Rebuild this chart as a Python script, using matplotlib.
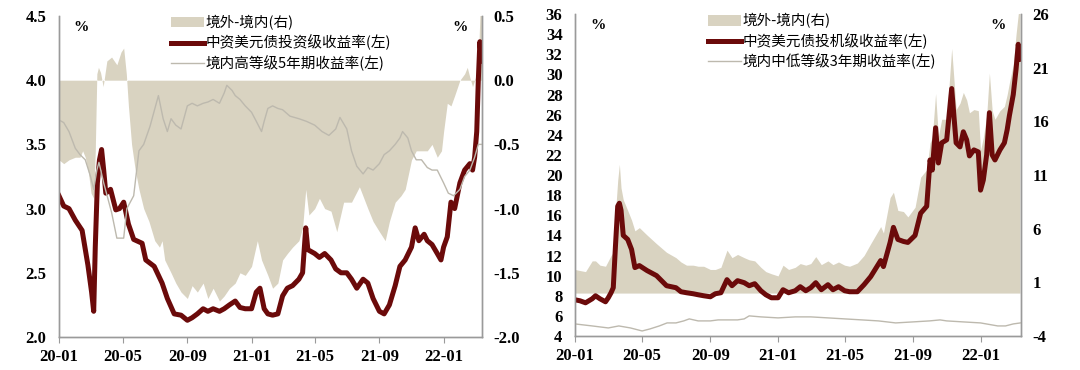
import numpy as np
import pandas as pd
import matplotlib
matplotlib.use('Agg')
import matplotlib.pyplot as plt
import matplotlib.dates as mdates

# ---- left panel: investment grade ----
l_red_dates = ['2020-01-01', '2020-01-10', '2020-01-20', '2020-02-01', '2020-02-14', '2020-02-25', '2020-03-03',
               '2020-03-07', '2020-03-10', '2020-03-14', '2020-03-18', '2020-03-22', '2020-03-26', '2020-03-30',
               '2020-04-08', '2020-04-18', '2020-04-25', '2020-05-03', '2020-05-12', '2020-05-22', '2020-06-07',
               '2020-06-14', '2020-06-30', '2020-07-15', '2020-07-25', '2020-08-07', '2020-08-20',
               '2020-09-01', '2020-09-10', '2020-09-20', '2020-10-01', '2020-10-10', '2020-10-20', '2020-11-01', '2020-11-10', '2020-11-20',
               '2020-12-01', '2020-12-10', '2020-12-20',
               '2021-01-01', '2021-01-10', '2021-01-17', '2021-01-25', '2021-02-01', '2021-02-10', '2021-02-20',
               '2021-03-01', '2021-03-10', '2021-03-20', '2021-04-01', '2021-04-08', '2021-04-14', '2021-04-18',
               '2021-05-01', '2021-05-10', '2021-05-20', '2021-06-01', '2021-06-10', '2021-06-20', '2021-07-01', '2021-07-10', '2021-07-20',
               '2021-08-01', '2021-08-10', '2021-08-20', '2021-09-01', '2021-09-10', '2021-09-20', '2021-10-01', '2021-10-10', '2021-10-20',
               '2021-11-01', '2021-11-08', '2021-11-15', '2021-11-25', '2021-12-01', '2021-12-10', '2021-12-20', '2021-12-27',
               '2022-01-01', '2022-01-08', '2022-01-15', '2022-01-22', '2022-02-01', '2022-02-10', '2022-02-20', '2022-02-25',
               '2022-03-01', '2022-03-05', '2022-03-08', '2022-03-11', '2022-03-14']
l_red = [3.10, 3.02, 3.00, 2.91, 2.83, 2.56, 2.35,
         2.20, 2.70, 3.20, 3.38, 3.46, 3.30, 3.12,
         3.15, 2.99, 3.00, 3.05, 2.88, 2.76, 2.73,
         2.60, 2.55, 2.42, 2.30, 2.18, 2.17,
         2.13, 2.15, 2.18, 2.22, 2.20, 2.22, 2.20, 2.22, 2.25,
         2.28, 2.23, 2.22,
         2.22, 2.35, 2.38, 2.22, 2.18, 2.17, 2.18,
         2.32, 2.38, 2.40, 2.45, 2.50, 2.85, 2.68,
         2.65, 2.62, 2.65, 2.60, 2.53, 2.50, 2.50, 2.45, 2.38,
         2.45, 2.42, 2.30, 2.20, 2.18, 2.25, 2.40, 2.55, 2.60,
         2.70, 2.85, 2.75, 2.80, 2.75, 2.72, 2.65, 2.60,
         2.70, 2.78, 3.05, 3.00, 3.20, 3.30, 3.35, 3.30,
         3.40, 3.60, 4.00, 4.30, 4.15]

l_gray_dates = ['2020-01-01', '2020-01-10', '2020-01-20', '2020-02-01', '2020-02-10', '2020-02-20', '2020-03-01',
                '2020-03-07', '2020-03-13', '2020-03-17', '2020-03-26', '2020-04-10', '2020-04-20', '2020-05-03',
                '2020-05-09', '2020-05-22', '2020-06-01', '2020-06-10', '2020-06-22', '2020-07-08', '2020-07-17',
                '2020-07-25', '2020-08-01', '2020-08-10', '2020-08-20', '2020-09-01', '2020-09-10', '2020-09-20',
                '2020-10-01', '2020-10-10', '2020-10-20', '2020-11-01', '2020-11-10', '2020-11-15', '2020-11-25',
                '2020-12-01', '2020-12-10', '2020-12-20',
                '2021-01-01', '2021-01-10', '2021-01-20', '2021-01-25', '2021-02-01', '2021-02-10', '2021-02-20',
                '2021-03-01', '2021-03-15', '2021-04-01', '2021-04-15', '2021-05-01', '2021-05-15', '2021-05-28',
                '2021-06-10', '2021-06-18', '2021-07-01', '2021-07-10', '2021-07-20', '2021-08-01', '2021-08-10',
                '2021-08-20', '2021-09-01', '2021-09-10', '2021-09-20', '2021-10-01', '2021-10-10', '2021-10-15',
                '2021-10-25', '2021-11-01', '2021-11-10', '2021-11-20', '2021-12-01', '2021-12-10', '2021-12-20',
                '2022-01-01', '2022-01-10', '2022-01-20', '2022-02-01', '2022-02-10', '2022-02-20', '2022-03-01',
                '2022-03-08', '2022-03-14']
l_gray = [3.69, 3.67, 3.60, 3.47, 3.42, 3.38, 3.25,
          3.15, 3.30, 3.36, 3.20, 2.97, 2.77, 2.77,
          3.00, 3.10, 3.45, 3.50, 3.64, 3.88, 3.70,
          3.60, 3.70, 3.65, 3.62, 3.80, 3.82, 3.80,
          3.82, 3.83, 3.85, 3.82, 3.90, 3.96, 3.92,
          3.88, 3.85, 3.80,
          3.75, 3.68, 3.60, 3.68, 3.78, 3.80, 3.78,
          3.77, 3.72, 3.70, 3.68, 3.65, 3.60, 3.57,
          3.62, 3.71, 3.62, 3.45, 3.33, 3.27, 3.32,
          3.30, 3.35, 3.42, 3.45, 3.50, 3.55, 3.60,
          3.55, 3.45, 3.38, 3.38, 3.32, 3.30, 3.30,
          3.20, 3.12, 3.10, 3.15, 3.25, 3.30, 3.40,
          3.50, 3.50]

l_spread_dates = ['2020-01-01', '2020-01-10', '2020-01-20', '2020-02-01', '2020-02-10', '2020-02-15', '2020-02-20',
                  '2020-02-26', '2020-03-02', '2020-03-07', '2020-03-10', '2020-03-13', '2020-03-16', '2020-03-20',
                  '2020-03-25', '2020-04-01', '2020-04-10', '2020-04-20', '2020-04-28', '2020-05-03', '2020-05-08',
                  '2020-05-12', '2020-05-18', '2020-05-25', '2020-06-01', '2020-06-10', '2020-06-20', '2020-07-01',
                  '2020-07-10', '2020-07-15', '2020-07-20', '2020-08-01', '2020-08-10', '2020-08-20', '2020-09-01',
                  '2020-09-10', '2020-09-20', '2020-10-01', '2020-10-10', '2020-10-20', '2020-11-01', '2020-11-10',
                  '2020-11-20', '2020-12-01', '2020-12-10', '2020-12-20',
                  '2021-01-01', '2021-01-12', '2021-01-20', '2021-02-01', '2021-02-10', '2021-02-20', '2021-03-01',
                  '2021-03-10', '2021-03-20', '2021-04-01', '2021-04-08', '2021-04-14', '2021-04-20', '2021-05-01',
                  '2021-05-10', '2021-05-20', '2021-06-01', '2021-06-12', '2021-06-25', '2021-07-10', '2021-07-25',
                  '2021-08-10', '2021-08-20', '2021-09-01', '2021-09-12', '2021-09-20', '2021-10-01', '2021-10-12',
                  '2021-10-20', '2021-11-01', '2021-11-10', '2021-11-20', '2021-12-01', '2021-12-10', '2021-12-20',
                  '2021-12-28',
                  '2022-01-01', '2022-01-08', '2022-01-15', '2022-01-22', '2022-02-01', '2022-02-10', '2022-02-15',
                  '2022-02-20', '2022-02-25', '2022-03-01', '2022-03-05', '2022-03-08', '2022-03-11', '2022-03-14']
l_spread = [-0.62, -0.65, -0.62, -0.60, -0.60, -0.55, -0.60,
            -0.72, -0.88, -0.92, -0.55, 0.05, 0.10, 0.06,
            -0.05, 0.15, 0.18, 0.12, 0.22, 0.25, 0.05,
            -0.20, -0.50, -0.70, -0.85, -1.00, -1.10, -1.25,
            -1.30, -1.25, -1.40, -1.50, -1.58, -1.65, -1.70,
            -1.60, -1.65, -1.58, -1.70, -1.62, -1.72, -1.68,
            -1.62, -1.58, -1.50, -1.52,
            -1.45, -1.25, -1.40, -1.52, -1.62, -1.58, -1.40,
            -1.35, -1.30, -1.25, -1.15, -0.85, -1.05, -1.00,
            -0.92, -1.00, -1.02, -1.18, -0.95, -0.95, -0.83,
            -1.00, -1.10, -1.18, -1.25, -1.10, -0.95, -0.90,
            -0.85, -0.62, -0.55, -0.55, -0.55, -0.50, -0.60,
            -0.55,
            -0.40, -0.18, -0.20, -0.12, 0.00, 0.05, 0.10,
            0.02, -0.05, 0.00, 0.05, 0.15, 0.50, 0.55]

# ---- right panel: high yield ----
r_dates = ['2020-01-01', '2020-01-10', '2020-01-20', '2020-02-01', '2020-02-07', '2020-02-15', '2020-02-25',
           '2020-03-01', '2020-03-06', '2020-03-10', '2020-03-14', '2020-03-18', '2020-03-21', '2020-03-24',
           '2020-03-28', '2020-04-05', '2020-04-12', '2020-04-18', '2020-04-26', '2020-05-10', '2020-05-27',
           '2020-06-14', '2020-07-01', '2020-07-10', '2020-07-20', '2020-08-01', '2020-08-10', '2020-08-20',
           '2020-09-01', '2020-09-10', '2020-09-20', '2020-10-01', '2020-10-10', '2020-10-20', '2020-11-01',
           '2020-11-10', '2020-11-20', '2020-12-01', '2020-12-10', '2020-12-20',
           '2021-01-01', '2021-01-10', '2021-01-20', '2021-02-01', '2021-02-10', '2021-02-20', '2021-03-01',
           '2021-03-10', '2021-03-20', '2021-04-01', '2021-04-10', '2021-04-20', '2021-05-01', '2021-05-10',
           '2021-05-24', '2021-06-05', '2021-06-17', '2021-07-05', '2021-07-10', '2021-07-22', '2021-07-28',
           '2021-08-05', '2021-08-15', '2021-08-23', '2021-09-05', '2021-09-15', '2021-09-26', '2021-10-02',
           '2021-10-06', '2021-10-12', '2021-10-17', '2021-10-23', '2021-11-01', '2021-11-10', '2021-11-18',
           '2021-11-25', '2021-12-01', '2021-12-07', '2021-12-12', '2021-12-20', '2021-12-28',
           '2022-01-01', '2022-01-06', '2022-01-12', '2022-01-17', '2022-01-22', '2022-01-27', '2022-02-05',
           '2022-02-13', '2022-02-18', '2022-02-22', '2022-03-01', '2022-03-06', '2022-03-10', '2022-03-13']
r_red = [7.6, 7.5, 7.3, 7.7, 8.0, 7.7, 7.4,
         7.8, 8.3, 8.8, 13.0, 16.9, 17.2, 16.5,
         14.0, 13.6, 12.6, 10.8, 11.0, 10.5, 10.0,
         9.0, 8.8, 8.4, 8.3, 8.2, 8.1, 8.0,
         7.9, 8.2, 8.3, 9.6, 9.0, 9.5, 9.3,
         9.0, 9.2, 8.5, 8.1, 7.8,
         7.8, 8.6, 8.3, 8.5, 8.9, 8.5, 8.8,
         9.3, 8.6, 9.1, 8.6, 8.9, 8.5, 8.4,
         8.4, 9.1, 9.9, 11.5, 10.9, 13.3, 14.8,
         13.6, 13.4, 13.3, 14.0, 16.2, 16.9, 21.5,
         20.5, 24.7, 21.2, 23.2, 23.5, 28.6, 23.2,
         22.8, 24.3, 23.5, 21.9, 22.5, 22.3,
         18.5, 19.5, 22.0, 26.2, 22.0, 21.5, 22.5,
         23.2, 24.5, 25.9, 28.0, 30.5, 33.0, 31.5]
r_spread = [2.2, 2.1, 2.0, 3.0, 3.0, 2.6, 2.5,
            3.0, 3.5, 3.8, 7.5, 10.5, 12.0, 9.8,
            8.7, 7.7, 6.8, 5.8, 6.1, 5.4, 4.6,
            3.8, 3.3, 2.9, 2.6, 2.6, 2.5, 2.5,
            2.2, 2.2, 2.4, 4.0, 3.3, 3.6, 3.3,
            3.1, 3.0, 2.4, 2.0, 1.8,
            1.6, 2.6, 2.2, 2.4, 2.75, 2.6, 2.75,
            3.4, 2.65, 3.0, 2.65, 2.9, 2.6, 2.5,
            2.8, 3.5, 4.6, 6.2, 5.6, 8.9, 9.4,
            7.7, 7.6, 7.1, 8.0, 10.8, 11.5, 14.0,
            14.5, 18.6, 14.6, 16.2, 16.2, 22.8, 17.1,
            17.7, 18.7, 18.0, 16.8, 17.1, 17.0,
            13.3, 14.5, 16.5, 20.5, 17.0, 16.2, 17.0,
            17.4, 18.5, 19.6, 21.3, 24.1, 26.0, 27.0]

r_gray_dates = ['2020-01-01', '2020-02-01', '2020-03-01', '2020-03-20', '2020-04-10', '2020-05-01', '2020-05-15',
                '2020-06-01', '2020-06-15', '2020-07-01', '2020-07-15', '2020-07-25', '2020-08-10', '2020-09-01',
                '2020-09-15', '2020-10-01', '2020-10-20', '2020-11-01', '2020-11-10', '2020-12-01',
                '2021-01-01', '2021-02-01', '2021-03-01', '2021-04-01', '2021-05-01', '2021-06-01', '2021-07-01',
                '2021-08-01', '2021-09-01', '2021-10-01', '2021-10-20', '2021-11-01', '2021-12-01',
                '2022-01-01', '2022-02-01', '2022-02-15', '2022-03-01', '2022-03-14']
r_gray = [5.2, 5.0, 4.8, 5.0, 4.8, 4.5, 4.7,
          5.0, 5.3, 5.3, 5.5, 5.7, 5.5, 5.5,
          5.6, 5.6, 5.6, 5.7, 6.0, 5.9,
          5.8, 5.9, 5.9, 5.8, 5.7, 5.6, 5.5,
          5.3, 5.4, 5.5, 5.6, 5.5, 5.4,
          5.3, 5.0, 5.0, 5.2, 5.3]

l_labels = ['境外-境内(右)', '中资美元债投资级收益率(左)', '境内高等级5年期收益率(左)']
r_labels = ['境外-境内(右)', '中资美元债投机级收益率(左)', '境内中低等级3年期收益率(左)']

fill_c = '#d9d3c1'
red_c = '#6b0a0a'
gray_c = '#bdb9ae'
spine_c = '#9a9a9a'

plt.rcParams['font.family'] = ['Liberation Serif']
cjk = ['Noto Sans CJK SC', 'DejaVu Sans']

fig = plt.figure(figsize=(10.8, 3.7), dpi=100)


def panel(pos, red_d, red, gray_d, gray, sp_d, sp, labels, ylim, yt, y2lim, y2t, fmt, leg_x):
    ax = fig.add_axes(pos)
    ax2 = ax.twinx()
    # lines on top of the twin-axis fill
    ax.set_zorder(ax2.get_zorder() + 1)
    ax.patch.set_visible(False)

    fill = ax2.fill_between(pd.to_datetime(sp_d), 0, sp, color=fill_c, lw=0, interpolate=True)
    l1, = ax.plot(pd.to_datetime(red_d), red, color=red_c, lw=3.6, solid_joinstyle='round')
    l2, = ax.plot(pd.to_datetime(gray_d), gray, color=gray_c, lw=1.0)

    ax.set_xlim(pd.Timestamp('2020-01-01'), pd.Timestamp('2022-03-15'))
    ax.set_ylim(*ylim)
    ax.set_yticks(yt)
    ax.set_yticklabels([fmt.format(v) for v in yt])
    ax2.set_ylim(*y2lim)
    ax2.set_yticks(y2t)
    ax2.set_yticklabels([fmt.format(v) for v in y2t])

    xt = pd.date_range('2020-01-01', '2022-01-01', freq='4MS')
    ax.set_xticks(xt)
    ax.xaxis.set_major_formatter(mdates.DateFormatter('%y-%m'))

    for a in (ax, ax2):
        a.spines['top'].set_visible(False)
        for s in ('left', 'right', 'bottom'):
            a.spines[s].set_color(spine_c)
            a.spines[s].set_linewidth(1.0)
    ax.tick_params(axis='y', length=0, pad=9, labelsize=12)
    ax2.tick_params(axis='y', length=0, pad=8, labelsize=12)
    ax.tick_params(axis='x', length=4, color=spine_c, pad=5, labelsize=12)
    for t in ax.get_xticklabels() + ax.get_yticklabels() + ax2.get_yticklabels():
        t.set_fontweight('bold')

    ax.text(0.035, 0.985, '%', transform=ax.transAxes, ha='left', va='top', fontsize=11, fontweight='bold')
    ax.text(0.965, 0.985, '%', transform=ax.transAxes, ha='right', va='top', fontsize=11, fontweight='bold')

    ax.legend([fill, l1, l2], labels, loc='upper left', bbox_to_anchor=(leg_x, 1.02), frameon=False,
              prop={'family': cjk, 'size': 10.5}, handlelength=2.3, handletextpad=0.1, labelspacing=0.3,
              borderaxespad=0)
    return ax, ax2


panel([0.0546, 0.0892, 0.3917, 0.8676], l_red_dates, l_red, l_gray_dates, l_gray, l_spread_dates, l_spread,
      l_labels, (2.0, 4.5), np.arange(2.0, 4.51, 0.5), (-2.0, 0.5), np.arange(-2.0, 0.51, 0.5), '{:.1f}', 0.25)
panel([0.5324, 0.0919, 0.4130, 0.8700], r_dates, r_red, r_gray_dates, r_gray, r_dates, r_spread,
      r_labels, (4, 36), np.arange(4, 37, 2), (-4, 26), np.arange(-4, 27, 5), '{:.0f}', 0.285)

fig.savefig('out.png', dpi=100)
